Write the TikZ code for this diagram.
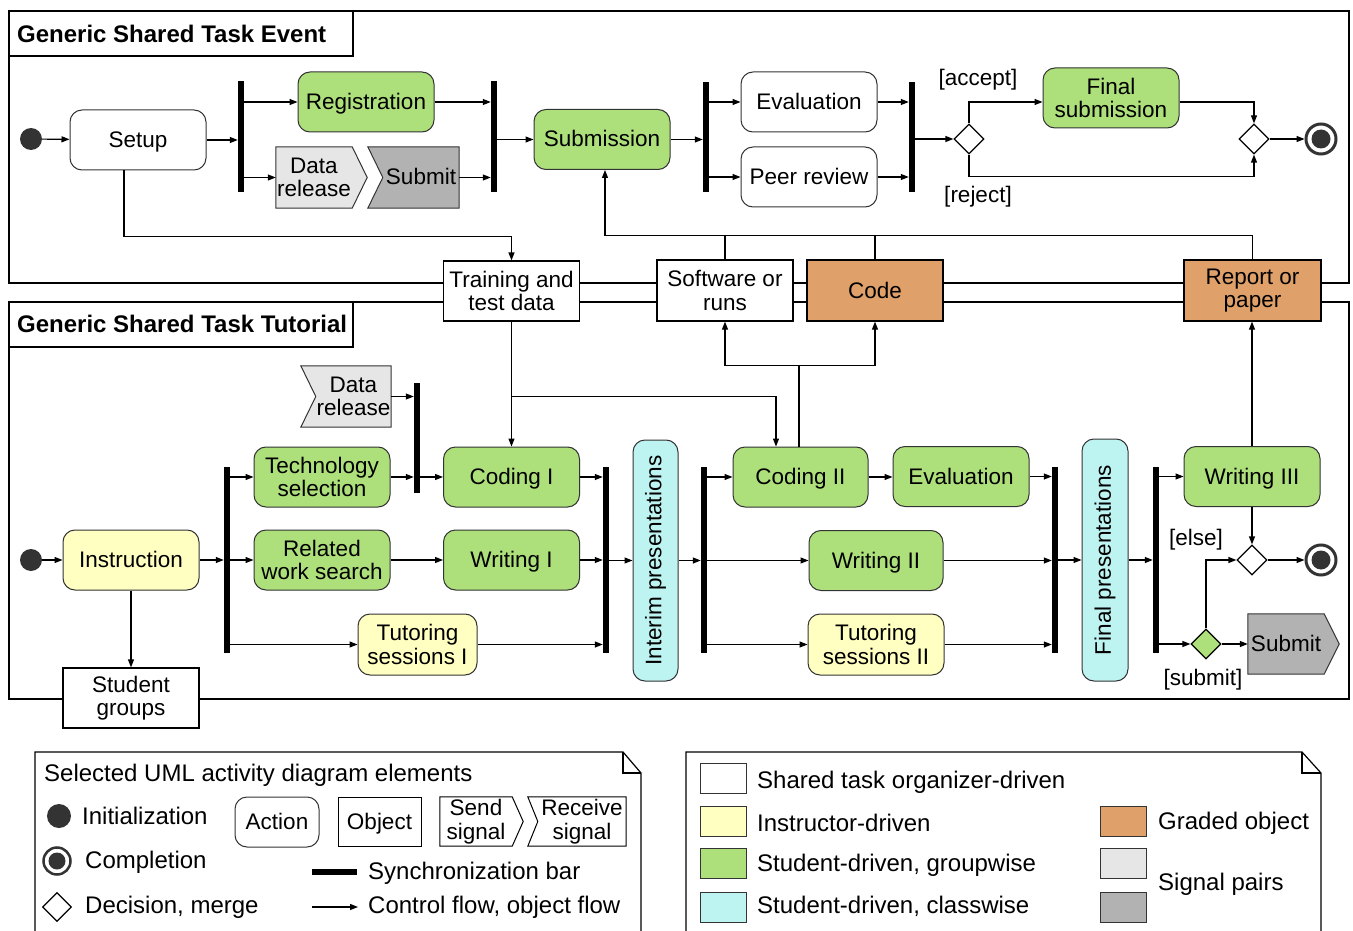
\documentclass[tikz,border=0pt]{standalone}
\usepackage{fontspec}
\setmainfont{Liberation Sans}
\usepackage{graphicx}
\usetikzlibrary{arrows.meta,shapes.geometric,calc}
\definecolor{grn}{HTML}{ADE07B}
\definecolor{ylw}{HTML}{FFFFC2}
\definecolor{cyn}{HTML}{BDF4F2}
\definecolor{org}{HTML}{DFA06A}
\definecolor{lgr}{HTML}{E6E6E6}
\definecolor{dgr}{HTML}{B2B2B2}
\definecolor{dk}{HTML}{333333}
\pgfdeclarelayer{bg}
\pgfsetlayers{bg,main}
\newcommand\dfont{\fontsize{22.5}{23.5}\selectfont}
\newcommand\lfont{\fontsize{24}{25}\selectfont}
\newcommand\tfont{\fontsize{24}{25}\selectfont\bfseries}
\begin{document}
\begin{tikzpicture}[x=1pt,y=-1pt,
 every node/.style={font=\dfont, inner sep=0pt, align=center},
 act/.style={draw=dk, line width=1pt, rounded corners=12pt, minimum width=136pt, minimum height=60pt},
 obj/.style={draw=black, line width=1.2pt, minimum width=136pt, minimum height=60pt, fill=white},
 one/.style={text height=18pt, text depth=3pt},
 signode/.style={minimum height=61pt},
 sigline/.style={draw=dk, line width=1pt},
 syncbar/.style={fill=black, minimum width=6pt},
 flow/.style={line width=1.2pt, -{Triangle[length=8pt,width=6pt]}},
 conn/.style={line width=1.2pt},
 decnode/.style={diamond, draw=black, line width=1.2pt, minimum width=30pt, minimum height=30pt, fill=white},
 initnode/.style={circle, fill=dk, minimum size=22pt},
 finnode/.style={circle, draw=dk, line width=3pt, minimum size=30pt, fill=white},
 framel/.style={line width=2pt},
 notel/.style={line width=1.2pt},
 swatch/.style={draw=dk, line width=1pt, minimum width=46pt, minimum height=30pt},
 ltext/.style={font=\lfont, anchor=west},
]
\useasboundingbox (0,0) rectangle (1353,931);

% ---------- frames ----------
\draw[framel] (9,11) rectangle (1349,283);
\draw[framel] (9,11) rectangle (353,56);
\node[font=\tfont, anchor=west] (t1) at (17,34) {Generic Shared Task Event};
\draw[framel] (9,302) rectangle (1349,699);
\draw[framel] (9,302) rectangle (353,347);
\node[font=\tfont, anchor=west] (t2) at (17,324) {Generic Shared Task Tutorial};

% ---------- top: event ----------
\node[initnode] (i1) at (31,139) {};
\node[act, one, fill=white] (setup) at (138,140) {Setup};
\node[syncbar, minimum height=111pt] (b1) at (241,136.5) {};
\node[act, one, fill=grn] (reg) at (366,102) {Registration};
\node[signode, minimum width=76pt] (dr1) at (314,177.5) {Data\\release};
\node[signode, one, minimum width=76pt] (sub1) at (421,177.5) {Submit};
\node[syncbar, minimum height=111pt] (b2) at (494,136.5) {};
\node[act, one, fill=grn] (subm) at (602,139.5) {Submission};
\node[syncbar, minimum height=110pt] (b3) at (706,137) {};
\node[act, one, fill=white] (ev1) at (809,102) {Evaluation};
\node[act, one, fill=white] (peer) at (809,177) {Peer review};
\node[syncbar, minimum height=110pt] (b4) at (912,137) {};
\node[decnode] (d1) at (969,139) {};
\node[act, fill=grn] (fs) at (1111,98) {Final\\submission};
\node[decnode] (m1) at (1254,139) {};
\node[finnode] (f1) at (1321,139) {};
\fill[dk] (f1.center) circle[radius=9.5pt];
\node (lacc) at (978,80) {[accept]};
\node (lrej) at (978,197) {[reject]};

% ---------- objects between the frames ----------
\node[obj] (train) at (511.5,291) {Training and\\test data};
\node[obj, minimum height=61pt] (soft) at (725,290.5) {Software or\\runs};
\node[obj, one, minimum height=61pt, fill=org] (code) at (875,290.5) {Code};
\node[obj, minimum height=61pt, minimum width=137pt, fill=org] (rep) at (1252.5,290.5) {Report or\\paper};

% ---------- bottom: tutorial ----------
\node[initnode] (i2) at (31,560) {};
\node[act, one, fill=ylw] (instr) at (131,560) {Instruction};
\node[obj] (sg) at (131,698) {Student\\groups};
\node[syncbar, minimum height=186pt] (b5) at (227,560) {};
\node[act, fill=grn] (tech) at (322,477) {Technology\\selection};
\node[act, fill=grn] (relw) at (322,560) {Related\\work search};
\node[act, fill=ylw, minimum width=119pt, minimum height=61pt] (tut1) at (417.5,644.5) {Tutoring\\sessions I};
\node[signode, minimum width=75pt] (dr2) at (353.5,396.5) {Data\\release};
\node[syncbar, minimum height=110pt] (b6) at (417,438) {};
\node[act, one, fill=grn] (cod1) at (511.5,477) {Coding I};
\node[act, one, fill=grn] (wri1) at (511.5,560) {Writing I};
\node[syncbar, minimum height=186pt] (b7) at (606,560) {};
\node[act, fill=cyn, minimum width=45pt, minimum height=241pt] (intp) at (655.5,560.5) {\rotatebox{90}{Interim presentations}};
\node[syncbar, minimum height=186pt] (b8) at (704,560) {};
\node[act, one, fill=grn, minimum width=135pt] (cod2) at (800.5,477) {Coding II};
\node[act, one, fill=grn] (ev2) at (961,476.5) {Evaluation};
\node[act, one, fill=grn, minimum width=134pt] (wri2) at (876,560.5) {Writing II};
\node[act, fill=ylw, minimum height=61pt] (tut2) at (876,644.5) {Tutoring\\sessions II};
\node[syncbar, minimum height=186pt] (b9) at (1055,560) {};
\node[act, fill=cyn, minimum width=46pt, minimum height=242pt] (finp) at (1105,560) {\rotatebox{90}{Final presentations}};
\node[syncbar, minimum height=186pt] (b10) at (1156,560) {};
\node[act, one, fill=grn] (wri3) at (1252,476.5) {Writing III};
\node[decnode] (m2) at (1252,560) {};
\node[finnode] (f2) at (1321,560) {};
\fill[dk] (f2.center) circle[radius=9.5pt];
\node[decnode, fill=grn] (d2) at (1206,644) {};
\node[signode, one, minimum width=76pt, minimum height=60pt] (sub2) at (1286,644) {Submit};
\node (lelse) at (1196,540) {[else]};
\node (lsub) at (1203,680) {[submit]};

% ---------- signal shapes (background) ----------
\begin{pgfonlayer}{bg}
\filldraw[sigline, fill=lgr] (dr1.north west) -- (dr1.north east) -- ([xshift=15pt]dr1.east) -- (dr1.south east) -- (dr1.south west) -- cycle;
\filldraw[sigline, fill=dgr] ([xshift=-15pt]sub1.north west) -- (sub1.north east) -- (sub1.south east) -- ([xshift=-15pt]sub1.south west) -- (sub1.west) -- cycle;
\filldraw[sigline, fill=lgr] ([xshift=-15pt]dr2.north west) -- (dr2.north east) -- (dr2.south east) -- ([xshift=-15pt]dr2.south west) -- (dr2.west) -- cycle;
\filldraw[sigline, fill=dgr] (sub2.north west) -- (sub2.north east) -- ([xshift=15pt]sub2.east) -- (sub2.south east) -- (sub2.south west) -- cycle;
\end{pgfonlayer}

% ---------- top connectors ----------
\draw[flow] (i1) -- (setup);
\draw[flow] (setup.east) -- (setup.east -| b1.west);
\draw[flow] (b1.east |- reg.west) -- (reg.west);
\draw[flow] (b1.east |- dr1.west) -- (dr1.west);
\draw[flow] (reg.east) -- (reg.east -| b2.west);
\draw[flow] (sub1.east) -- (sub1.east -| b2.west);
\draw[flow] (b2.east |- subm.west) -- (subm.west);
\draw[flow] (subm.east) -- (subm.east -| b3.west);
\draw[flow] (b3.east |- ev1.west) -- (ev1.west);
\draw[flow] (b3.east |- peer.west) -- (peer.west);
\draw[flow] (ev1.east) -- (ev1.east -| b4.west);
\draw[flow] (peer.east) -- (peer.east -| b4.west);
\draw[flow] (b4.east |- d1.west) -- (d1.west);
\draw[flow] (d1.north) |- ([yshift=-4pt]fs.west);
\draw[flow] ([yshift=-4pt]fs.east) -| (m1.north);
\draw[flow] (d1.south) -- ++(0,22) -| (m1.south);
\draw[flow] (m1) -- (f1);

% ---------- object flows ----------
\draw[flow] ([xshift=-14pt]setup.south) -- ++(0,66) -| (train.north);
\draw[flow] (rep.north) -- ++(0,-24) -| ([xshift=3pt]subm.south);
\draw[conn] (soft.north) -- ++(0,-24);
\draw[conn] (code.north) -- ++(0,-24);

% ---------- bottom connectors ----------
\draw[flow] (i2) -- (instr);
\draw[flow] (instr.east) -- (instr.east -| b5.west);
\draw[flow] (instr.south) -- (sg.north);
\draw[flow] (b5.east |- tech.west) -- (tech.west);
\draw[flow] (b5.east |- relw.west) -- (relw.west);
\draw[flow] (b5.east |- tut1.west) -- (tut1.west);
\draw[flow] (dr2.east) -- (dr2.east -| b6.west);
\draw[flow] (tech.east) -- (tech.east -| b6.west);
\draw[flow] (b6.east |- cod1.west) -- (cod1.west);
\draw[flow] (relw.east) -- (wri1.west);
\draw[flow] (cod1.east) -- (cod1.east -| b7.west);
\draw[flow] (wri1.east) -- (wri1.east -| b7.west);
\draw[flow] (tut1.east) -- (tut1.east -| b7.west);
\draw[flow] (b7.east |- intp.west) -- (intp.west);
\draw[flow] (intp.east) -- (intp.east -| b8.west);
\draw[flow] (b8.east |- cod2.west) -- (cod2.west);
\draw[flow] (b8.east |- wri2.west) -- (wri2.west);
\draw[flow] (b8.east |- tut2.west) -- (tut2.west);
\draw[flow] (cod2.east) -- (cod2.east -| ev2.west);
\draw[flow] (ev2.east) -- (ev2.east -| b9.west);
\draw[flow] (wri2.east) -- (wri2.east -| b9.west);
\draw[flow] (tut2.east) -- (tut2.east -| b9.west);
\draw[flow] (b9.east |- finp.west) -- (finp.west);
\draw[flow] (finp.east) -- (finp.east -| b10.west);
\draw[flow] (b10.east |- wri3.west) -- (wri3.west);
\draw[flow] (b10.east |- d2.west) -- (d2.west);
\draw[flow] (wri3.north) -- (wri3.north |- rep.south);
\draw[flow] (wri3.south) -- (m2.north);
\draw[flow] (m2) -- (f2);
\draw[flow] (d2.east) -- (sub2.west);
\draw[flow] (d2.north) |- (m2.west);
\draw[flow] (train.south) -- (cod1.north);
\draw[flow] (train.south |- dr2.east) -| ([xshift=-24.5pt]cod2.north);
\draw[conn] ([xshift=-1.5pt]cod2.north) -- ++(0,-81) coordinate (c2t);
\draw[flow] (c2t) -| (soft.south);
\draw[flow] (c2t) -| (code.south);

% ---------- legend: UML elements ----------
\draw[notel] (35,931) -- (35,752) -- (623,752) -- (641,773) -- (641,931);
\draw[notel] (623,752) -- (623,773) -- (641,773);
\node[ltext] (lt) at (44,775) {Selected UML activity diagram elements};
\node[initnode, minimum size=24pt] (li) at (59,816) {};
\node[ltext] (lti) at (82,816) {Initialization};
\node[finnode, minimum size=27pt, line width=2.5pt] (lc) at (57,861) {};
\fill[dk] (lc.center) circle[radius=8.5pt];
\node[ltext] (ltc) at (85,862) {Completion};
\node[decnode, minimum width=29pt, minimum height=29pt] (ld) at (57,907) {};
\node[ltext] (ltd) at (85,907) {Decision, merge};
\node[act, one, minimum width=84pt, minimum height=50pt] (la) at (277,822) {Action};
\node[obj, one, line width=1pt, minimum width=83pt, minimum height=49pt] (lo) at (379.5,821.5) {Object};
\node[minimum width=72pt, minimum height=49pt] (ls) at (476,821.5) {Send\\signal};
\node[minimum width=88pt, minimum height=49pt] (lr) at (582,821.5) {Receive\\signal};
\draw[sigline, draw=black] (ls.north west) -- (ls.north east) -- ([xshift=11pt]ls.east) -- (ls.south east) -- (ls.south west) -- cycle;
\draw[sigline, draw=black] ([xshift=-10pt]lr.north west) -- (lr.north east) -- (lr.south east) -- ([xshift=-10pt]lr.south west) -- (lr.west) -- cycle;
\coordinate (lb1) at (312,872);
\coordinate (lb2) at (357,872);
\draw[line width=6pt] (lb1) -- (lb2);
\node[ltext] (ltb) at (368,873.5) {Synchronization bar};
\coordinate (la1) at (312,907);
\coordinate (la2) at (358,907);
\draw[flow] (la1) -- (la2);
\node[ltext] (ltf) at (368,907.5) {Control flow, object flow};

% ---------- legend: colours ----------
\draw[notel] (686,931) -- (686,752) -- (1302,752) -- (1321,773) -- (1321,931);
\draw[notel] (1302,752) -- (1302,773) -- (1321,773);
\node[swatch, fill=white] (s1) at (723,778) {};
\node[ltext] (st1) at (757,782) {Shared task organizer-driven};
\node[swatch, fill=ylw] (s2) at (723,821.5) {};
\node[ltext] (st2) at (757,823) {Instructor-driven};
\node[swatch, fill=grn] (s3) at (723,863.5) {};
\node[ltext] (st3) at (757,865) {Student-driven, groupwise};
\node[swatch, fill=cyn] (s4) at (723,907) {};
\node[ltext] (st4) at (757,906) {Student-driven, classwise};
\node[swatch, fill=org] (s5) at (1123,821.5) {};
\node[ltext] (st5) at (1158,823) {Graded object};
\node[swatch, fill=lgr] (s6) at (1123,863.5) {};
\node[swatch, fill=dgr] (s7) at (1123,907) {};
\node[ltext] (st6) at (1158,884) {Signal pairs};
\end{tikzpicture}
\end{document}
